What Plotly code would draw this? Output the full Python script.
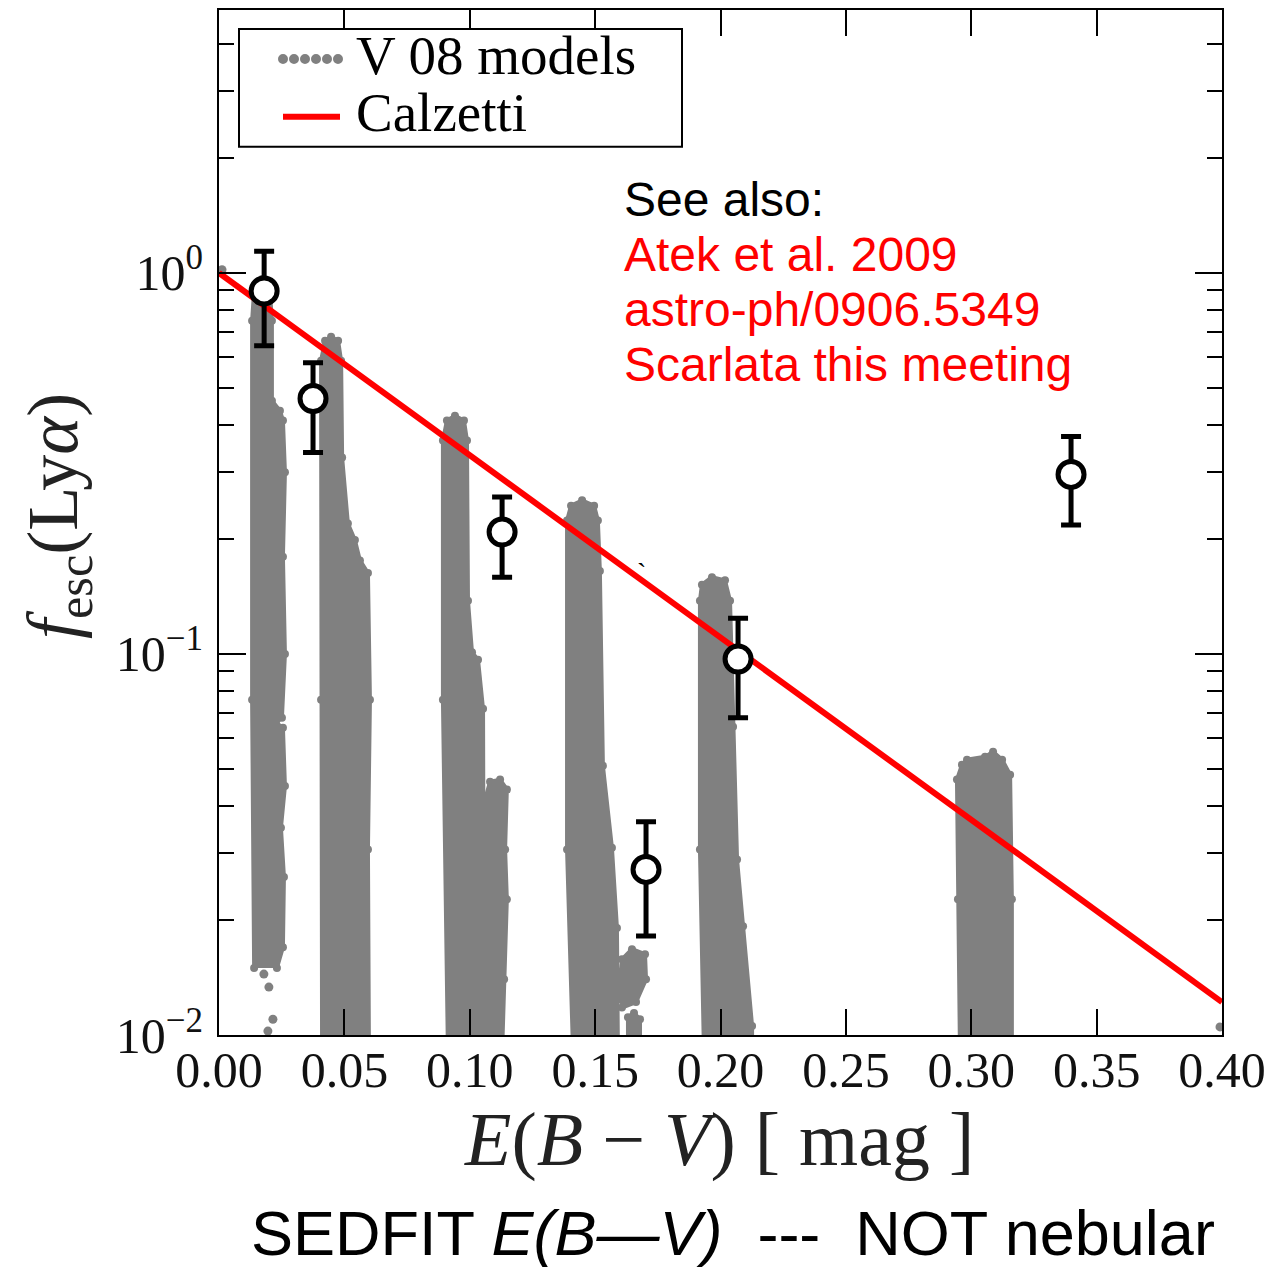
import plotly.graph_objects as go

# ---- data -------------------------------------------------------------
# Calzetti attenuation curve for Ly-alpha escape fraction
calz_ebv = [0.0, 0.40]
calz_fesc = [1.0, 0.0122]

# Observed galaxies with error bars
obs_ebv = [0.018, 0.0375, 0.1129, 0.1703, 0.207, 0.3398]
obs_fesc = [0.897, 0.468, 0.209, 0.0272, 0.097, 0.296]
obs_fesc_hi = [1.14, 0.581, 0.258, 0.0363, 0.124, 0.372]
obs_fesc_lo = [0.644, 0.338, 0.159, 0.0182, 0.068, 0.218]

# V08 model clouds: outline of each dense band of models (E(B-V), f_esc)
cloud_a_ebv = [0.0140, 0.0132, 0.0132, 0.0140, 0.0172, 0.0203, 0.0211, 0.0211,
               0.0243, 0.0255, 0.0263, 0.0255, 0.0263, 0.0251, 0.0227, 0.0255,
               0.0263, 0.0247, 0.0259, 0.0255, 0.0231]
cloud_a_fesc = [0.0150, 0.0758, 0.749, 0.897, 0.964, 0.897, 0.749, 0.462,
                0.435, 0.410, 0.300, 0.180, 0.100, 0.0680, 0.0660, 0.0640,
                0.0450, 0.0350, 0.0260, 0.0170, 0.0150]
cloud_a_dots_ebv = [0.0179, 0.0199, 0.0215, 0.0195, 0.0012]
cloud_a_dots_fesc = [0.01445, 0.01336, 0.0110, 0.01024, 1.02]

cloud_b_ebv = [0.0411, 0.0407, 0.0407, 0.0423, 0.0447, 0.0475, 0.0487, 0.0491,
               0.0514, 0.0542, 0.0562, 0.0594, 0.0602, 0.0594, 0.0598]
cloud_b_fesc = [0.009, 0.0758, 0.588, 0.664, 0.680, 0.664, 0.588, 0.328,
                0.220, 0.199, 0.176, 0.163, 0.0758, 0.0307, 0.009]

cloud_c_ebv = [0.0913, 0.0893, 0.0893, 0.0909, 0.0941, 0.0977, 0.0989, 0.0993,
               0.1009, 0.1033, 0.1053, 0.1057]
cloud_c_fesc = [0.009, 0.0758, 0.363, 0.410, 0.422, 0.410, 0.363, 0.138,
                0.101, 0.0965, 0.0718, 0.009]

cloud_c2_ebv = [0.1063, 0.1061, 0.1081, 0.1121, 0.1148, 0.1141, 0.1148, 0.1137,
                0.1129]
cloud_c2_fesc = [0.009, 0.0415, 0.0462, 0.0468, 0.0441, 0.0307, 0.0227, 0.0140,
                 0.009]

cloud_d_ebv = [0.1412, 0.1388, 0.1388, 0.1404, 0.1448, 0.1496, 0.1511, 0.1519,
               0.1531, 0.1567, 0.1587, 0.1591]
cloud_d_fesc = [0.009, 0.0307, 0.224, 0.245, 0.253, 0.245, 0.224, 0.165,
                0.0509, 0.0310, 0.0191, 0.009]

cloud_d2_ebv = [0.1591, 0.1607, 0.1647, 0.1699, 0.1703, 0.1663, 0.1607]
cloud_d2_fesc = [0.0124, 0.0158, 0.0168, 0.0163, 0.0140, 0.0122, 0.0118]

cloud_d3_ebv = [0.1631, 0.1631, 0.1655, 0.1679, 0.1679]
cloud_d3_fesc = [0.009, 0.01114, 0.01142, 0.0110, 0.009]

cloud_e_ebv = [0.1934, 0.1918, 0.1918, 0.1926, 0.1966, 0.2018, 0.2038, 0.2050,
               0.2066, 0.2090, 0.2126, 0.2126]
cloud_e_fesc = [0.009, 0.0307, 0.138, 0.152, 0.159, 0.156, 0.138, 0.0644,
                0.0289, 0.0193, 0.01056, 0.009]

cloud_f_ebv = [0.2955, 0.2947, 0.2943, 0.2963, 0.2983, 0.3055, 0.3087, 0.3123,
               0.3155, 0.3162, 0.3162]
cloud_f_fesc = [0.009, 0.0227, 0.0468, 0.0512, 0.0528, 0.0537, 0.0554, 0.0528,
                0.0482, 0.0227, 0.009]

cloud_edge_ebv = [0.3992]
cloud_edge_fesc = [0.0105]

x_ticks = [0.0, 0.05, 0.10, 0.15, 0.20, 0.25, 0.30, 0.35, 0.40]
y_ticks = [0.01, 0.1, 1.0]
y_tick_text = ["10<sup>−2</sup>", "10<sup>−1</sup>", "10<sup>0</sup>"]
y_minor = [m * d for d in (0.01, 0.1, 1.0) for m in range(2, 10) if m * d < 4.9]

legend_labels = ["V 08 models", "Calzetti"]
notes_black = ["See also:"]
notes_red = ["Atek et al. 2009", "astro-ph/0906.5349", "Scarlata this meeting"]

# ---- styling ----------------------------------------------------------
GRAY = "#808080"
RED = "#ff0000"
SERIF = "Liberation Serif"
SANS = "Liberation Sans"

W, H = 1286, 1267
ML, MR, MT, MB = 219, 64, 8, 232
PW, PH = W - ML - MR, H - MT - MB


def pxp(x):
    return (x - ML) / PW


def pyp(y):
    return (H - MB - y) / PH


fig = go.Figure()

clouds = [
    (cloud_a_ebv, cloud_a_fesc), (cloud_b_ebv, cloud_b_fesc),
    (cloud_c_ebv, cloud_c_fesc), (cloud_c2_ebv, cloud_c2_fesc),
    (cloud_d_ebv, cloud_d_fesc), (cloud_d2_ebv, cloud_d2_fesc),
    (cloud_d3_ebv, cloud_d3_fesc), (cloud_e_ebv, cloud_e_fesc),
    (cloud_f_ebv, cloud_f_fesc),
]
for ex, fy in clouds:
    fig.add_trace(go.Scatter(
        x=ex, y=fy, mode="lines+markers", fill="toself", fillcolor=GRAY,
        line=dict(color=GRAY, width=4),
        marker=dict(color=GRAY, size=8),
        showlegend=False, hoverinfo="skip"))

fig.add_trace(go.Scatter(
    x=cloud_a_dots_ebv + cloud_edge_ebv, y=cloud_a_dots_fesc + cloud_edge_fesc,
    mode="markers", marker=dict(color=GRAY, size=9),
    showlegend=False, hoverinfo="skip"))

fig.add_trace(go.Scatter(
    x=calz_ebv, y=calz_fesc, mode="lines",
    line=dict(color=RED, width=6), name="Calzetti", showlegend=False))

fig.add_trace(go.Scatter(
    x=obs_ebv, y=obs_fesc, mode="markers",
    marker=dict(symbol="circle", size=26, color="white",
                line=dict(color="black", width=5)),
    error_y=dict(type="data", symmetric=False,
                 array=[h - v for h, v in zip(obs_fesc_hi, obs_fesc)],
                 arrayminus=[v - l for l, v in zip(obs_fesc_lo, obs_fesc)],
                 color="black", thickness=5, width=10),
    showlegend=False))

axis_common = dict(
    showline=True, linecolor="black", linewidth=2, mirror="ticks",
    ticks="inside", tickcolor="black", tickwidth=1.5,
    showgrid=False, zeroline=False,
    tickfont=dict(family=SERIF, size=50, color="#111111"),
)

fig.update_xaxes(
    range=[0, 0.40], tickvals=x_ticks, tickformat=".2f", ticklen=26,
    ticklabelstandoff=-10, **axis_common)
fig.update_yaxes(
    type="log", range=[-2, 0.69], tickvals=y_ticks, ticktext=y_tick_text,
    ticklen=27, ticklabelstandoff=4,
    minor=dict(tickvals=y_minor, ticks="inside", ticklen=15, tickwidth=1.5,
               tickcolor="black"),
    **axis_common)

annotations = []
# axis titles
annotations.append(dict(
    text="<i>E</i>(<i>B</i> − <i>V</i>) [ mag ]", x=pxp(719), y=pyp(1140),
    xref="paper", yref="paper", xanchor="center", yanchor="middle",
    showarrow=False, font=dict(family=SERIF, size=76, color="#222222")))
annotations.append(dict(
    text="<i>f</i><sub>esc</sub>(Ly<i>α</i>)", x=pxp(58), y=pyp(515),
    xref="paper", yref="paper", xanchor="center", yanchor="middle",
    showarrow=False, textangle=-90,
    font=dict(family=SERIF, size=72, color="#222222")))

# legend
for i, lab in enumerate(legend_labels):
    annotations.append(dict(
        text=lab, x=pxp(354), y=pyp(54 + 57 * i), xref="paper", yref="paper",
        xanchor="left", yanchor="middle", showarrow=False,
        font=dict(family=SERIF, size=55, color="black")))

# side notes
for i, t in enumerate(notes_black + notes_red):
    annotations.append(dict(
        text=t, x=pxp(622), y=pyp(198 + 55 * i), xref="paper", yref="paper",
        xanchor="left", yanchor="middle", showarrow=False,
        font=dict(family=SANS, size=48, color="black" if i == 0 else RED)))

annotations.append(dict(
    text="`", x=pxp(641), y=pyp(572), xref="paper", yref="paper",
    xanchor="center", yanchor="middle",
    showarrow=False, font=dict(family=SERIF, size=28, color="black")))

annotations.append(dict(
    text="SEDFIT <i>E(B—V)</i>&nbsp;&nbsp;---&nbsp;&nbsp;NOT nebular",
    x=pxp(733), y=pyp(1233), xref="paper", yref="paper",
    xanchor="center", yanchor="middle", showarrow=False,
    font=dict(family=SANS, size=63, color="black")))

shapes = [dict(type="rect", xref="paper", yref="paper",
               x0=pxp(239), x1=pxp(682), y0=pyp(145), y1=pyp(27),
               line=dict(color="black", width=2), fillcolor="white",
               layer="above")]
for cx in (283, 294, 305, 316, 327, 338):
    shapes.append(dict(type="circle", xref="paper", yref="paper",
                       x0=pxp(cx - 5), x1=pxp(cx + 5),
                       y0=pyp(62), y1=pyp(52),
                       fillcolor=GRAY, line=dict(width=0), layer="above"))
shapes.append(dict(type="line", xref="paper", yref="paper",
                   x0=pxp(283), x1=pxp(340), y0=pyp(115), y1=pyp(115),
                   line=dict(color=RED, width=6), layer="above"))

fig.update_layout(
    width=W, height=H, margin=dict(l=ML, r=MR, t=MT, b=MB),
    paper_bgcolor="white", plot_bgcolor="white",
    annotations=annotations, shapes=shapes, showlegend=False,
)

fig.write_html("out.html")
